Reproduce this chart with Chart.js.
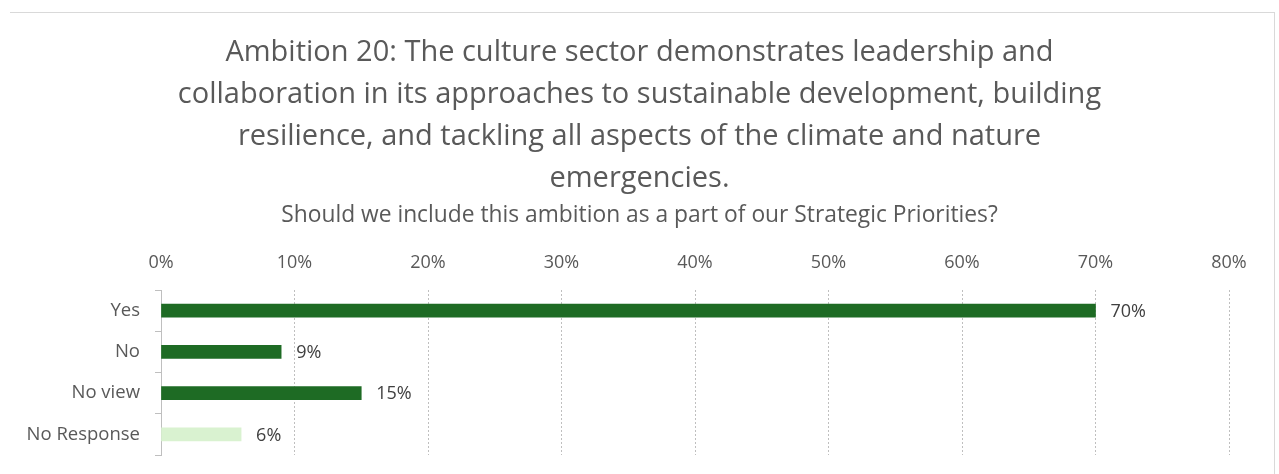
<!DOCTYPE html>
<html>
<head>
<meta charset="utf-8">
<script src="https://cdn.jsdelivr.net/npm/chart.js@4.4.1/dist/chart.umd.min.js"></script>
<style>
  html, body { margin: 0; padding: 0; background: #fff; }
  #wrap { position: relative; width: 1279px; height: 474px; overflow: hidden; }
  #frame { position: absolute; left: 10px; top: 12px; width: 1264px; height: 480px;
           border-top: 1px solid #d9d9d9; border-right: 1px solid #d9d9d9; }
  canvas { position: absolute; left: 0; top: 0; }
</style>
</head>
<body>
<div id="wrap">
  <div id="frame"></div>
  <canvas id="chart" width="1279" height="474"></canvas>
</div>
<script>
const categories = ['Yes', 'No', 'No view', 'No Response'];
const shares = [70, 9, 15, 6];
const barColors = ['#1e6b24', '#1e6b24', '#1e6b24', '#d9f2d0'];
const tickValues = [0, 10, 20, 30, 40, 50, 60, 70, 80];

const titleLines = [
  'Ambition 20: The culture sector demonstrates leadership and',
  'collaboration in its approaches to sustainable development, building',
  'resilience, and tackling all aspects of the climate and nature',
  'emergencies.'
];
const subtitleText = 'Should we include this ambition as a part of our Strategic Priorities?';

const FONT = "'Open Sans', sans-serif";

// value labels to the right of each bar
const barValueLabels = {
  id: 'barValueLabels',
  afterDatasetsDraw(chart) {
    const { ctx } = chart;
    const meta = chart.getDatasetMeta(0);
    ctx.save();
    ctx.font = '18px ' + FONT;
    ctx.fillStyle = '#404040';
    ctx.textAlign = 'left';
    ctx.textBaseline = 'middle';
    meta.data.forEach((bar, i) => {
      ctx.fillText(shares[i] + '%', bar.x + 15, bar.y + 1);
    });
    ctx.restore();
  }
};

new Chart(document.getElementById('chart'), {
  type: 'bar',
  data: {
    labels: categories,
    datasets: [{
      data: shares,
      backgroundColor: barColors,
      barThickness: 13,
      borderWidth: 0
    }]
  },
  options: {
    indexAxis: 'y',
    responsive: false,
    animation: false,
    layout: { padding: { left: 0, right: 0, top: 0, bottom: 19 } },
    plugins: {
      legend: { display: false },
      tooltip: { enabled: false },
      title: {
        display: true,
        text: titleLines,
        color: '#595959',
        font: { family: FONT, size: 29, weight: 'normal', lineHeight: 42 / 29 },
        padding: { top: 32, bottom: 3 }
      },
      subtitle: {
        display: true,
        text: subtitleText,
        color: '#595959',
        font: { family: FONT, size: 22.8, weight: 'normal', lineHeight: 1.1 },
        padding: { top: 0, bottom: 0 }
      }
    },
    scales: {
      x: {
        position: 'top',
        min: 0,
        max: 80,
        afterFit(scale) { scale.height = 62; },
        afterBuildTicks(scale) { scale.ticks = tickValues.map(v => ({ value: v })); },
        ticks: {
          color: '#595959',
          font: { family: FONT, size: 18 },
          padding: 16,
          callback: v => v + '%'
        },
        grid: {
          color: '#bfbfbf',
          drawTicks: false,
          lineWidth: 1
        },
        border: { display: false, dash: [2, 2] }
      },
      y: {
        afterFit(scale) {
          scale.width = 161;
          scale.paddingTop = 0;
          scale.paddingBottom = 0;
        },
        ticks: {
          color: '#595959',
          font: { family: FONT, size: 18.5 },
          padding: 15
        },
        grid: {
          drawOnChartArea: false,
          drawTicks: true,
          tickLength: 6,
          color: '#bfbfbf'
        },
        border: { display: true, color: '#bfbfbf', dash: [2, 2] }
      },
      // empty right-hand gutter so the titles stay centred on the page
      gutter: {
        type: 'linear',
        position: 'right',
        afterFit(scale) { scale.width = 50; },
        ticks: { display: false },
        grid: { display: false },
        border: { display: false }
      }
    }
  },
  plugins: [barValueLabels]
});
</script>
</body>
</html>
